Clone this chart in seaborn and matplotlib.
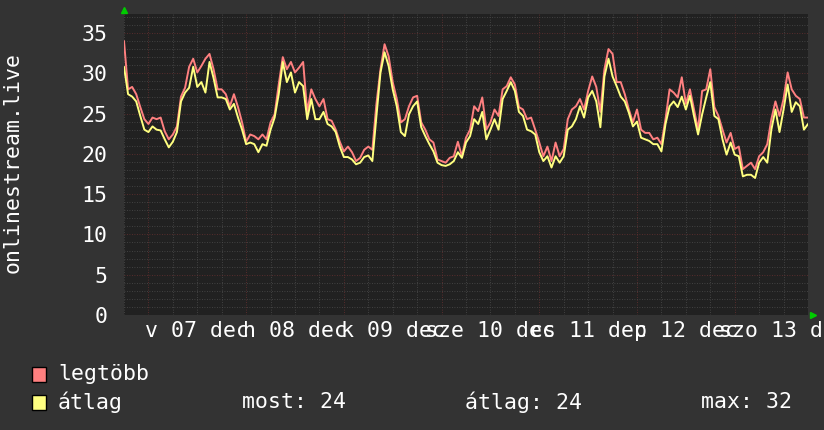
import numpy as np
import pandas as pd
import seaborn as sns
import matplotlib
matplotlib.use("Agg")
import matplotlib.pyplot as plt
from matplotlib.ticker import MultipleLocator
from matplotlib.patches import Rectangle

# hourly samples, hour 0 = 18:00 the evening before "v 07 dec"
atlag = [
    30.8, 27.4, 27.1, 26.5, 24.7, 23.0, 22.7, 23.4, 23.0, 22.9,
    21.8, 20.8, 21.5, 22.7, 26.5, 27.6, 28.2, 30.8, 28.3, 28.9,
    27.6, 31.4, 29.4, 27.0, 27.0, 26.8, 25.5, 26.2, 24.5, 23.0,
    21.2, 21.4, 21.2, 20.2, 21.2, 21.0, 23.0, 24.5, 27.4, 31.4,
    28.9, 30.1, 27.6, 28.9, 28.4, 24.3, 26.8, 24.3, 24.3, 25.2,
    23.7, 23.4, 22.7, 20.9, 19.6, 19.6, 19.3, 18.7, 18.9, 19.6,
    19.8, 19.1, 24.7, 30.1, 32.6, 30.9, 28.0, 25.9, 22.7, 22.2,
    24.9, 25.9, 26.5, 23.3, 22.2, 21.2, 20.3, 18.9, 18.6, 18.5,
    18.7, 19.1, 20.2, 19.5, 21.4, 22.2, 24.3, 23.7, 25.2, 21.8,
    23.0, 24.3, 23.0, 26.8, 27.8, 28.9, 27.8, 25.2, 24.7, 23.0,
    22.8, 22.4, 20.2, 19.1, 19.7, 18.3, 19.7, 18.9, 19.7, 23.0,
    23.4, 24.3, 25.9, 24.5, 27.0, 27.8, 26.5, 23.3, 29.6, 31.8,
    29.6, 28.4, 27.1, 26.5, 25.1, 23.4, 24.0, 22.0, 21.8, 21.6,
    21.2, 21.2, 20.3, 23.7, 25.9, 26.5, 25.8, 27.1, 25.5, 27.2,
    24.7, 22.4, 24.9, 27.0, 28.9, 24.7, 24.3, 21.8, 19.9, 21.4,
    19.9, 19.7, 17.2, 17.4, 17.4, 17.0, 18.9, 19.6, 18.9, 23.0,
    25.5, 22.7, 25.5, 28.6, 25.2, 26.4, 25.9, 23.0, 23.7,
]
legtobb = [
    34.0, 28.0, 28.3, 27.4, 25.8, 24.3, 23.7, 24.5, 24.3, 24.5,
    22.8, 21.8, 22.4, 23.4, 27.1, 28.2, 30.8, 31.8, 30.1, 30.9,
    31.8, 32.4, 30.5, 28.0, 28.0, 27.4, 25.9, 27.4, 25.8, 23.9,
    21.5, 22.4, 22.2, 21.8, 22.4, 21.8, 23.9, 24.9, 28.6, 32.0,
    30.5, 31.4, 30.1, 30.7, 31.4, 25.2, 28.0, 26.8, 25.9, 26.8,
    24.3, 24.1, 23.0, 21.5, 20.3, 20.9, 20.2, 19.1, 19.5, 20.5,
    20.9, 20.5, 26.2, 30.5, 33.6, 32.1, 28.9, 26.8, 23.9, 24.3,
    25.9, 27.0, 27.2, 23.9, 23.0, 21.8, 21.4, 19.3, 19.1, 18.9,
    19.5, 19.7, 21.5, 19.7, 22.0, 23.0, 25.9, 25.3, 27.0, 23.0,
    23.9, 25.5, 24.7, 28.0, 28.4, 29.5, 28.6, 25.8, 25.5, 24.3,
    24.5, 23.0, 21.4, 19.7, 20.9, 19.1, 21.4, 19.7, 20.6, 24.3,
    25.5, 25.9, 26.8, 25.5, 27.8, 29.6, 28.3, 25.2, 30.5, 33.0,
    32.4, 28.9, 28.9, 27.4, 25.5, 23.9, 25.5, 23.0, 22.6, 22.6,
    21.8, 22.0, 21.2, 24.3, 28.0, 27.6, 27.0, 29.5, 26.2, 28.0,
    25.5, 23.0, 27.8, 28.0, 30.5, 25.8, 24.7, 23.0, 21.4, 22.6,
    20.6, 20.9, 18.1, 18.5, 18.9, 18.1, 19.7, 20.2, 21.2, 24.3,
    26.5, 24.7, 26.8, 30.1, 28.0, 27.2, 26.8, 24.5, 24.5,
]
hours = list(range(len(atlag)))

day_labels = ["v 07 dec", "h 08 dec", "k 09 dec", "sze 10 dec",
              "cs 11 dec", "p 12 dec", "szo 13 dec"]
day_noons = [18, 42, 66, 90, 114, 138, 162]

series_names = ["legtöbb", "átlag"]
series_colors = ["#ff8080", "#ffff80"]
stat_labels = ["most: 24", "átlag: 24", "max: 32"]
y_title = "onlinestream.live"

df = pd.concat([
    pd.DataFrame({"ora": hours, "ertek": legtobb, "sor": "legtöbb"}),
    pd.DataFrame({"ora": hours, "ertek": atlag, "sor": "átlag"}),
])

outer_bg = "#333333"
plot_bg = "#212121"
sns.set_style("dark", rc={"figure.facecolor": outer_bg, "axes.facecolor": plot_bg})
plt.rcParams["font.family"] = ["DejaVu Sans Mono"]
fs = 15.5

fig = plt.figure(figsize=(8.24, 4.30), dpi=100)
W, H = 824, 430
left, right, top, bottom = 124, 808, 14, 315
ax = fig.add_axes([left / W, 1 - bottom / H, (right - left) / W, (bottom - top) / H])

sns.lineplot(data=df, x="ora", y="ertek", hue="sor", hue_order=series_names,
             palette=series_colors, estimator=None, legend=False,
             lw=1.4, ax=ax, zorder=3)

ax.set_xlim(0, 168)
ax.set_ylim(0, 37.35)
ax.set_xlabel("")
ax.set_ylabel("")

ax.xaxis.set_major_locator(MultipleLocator(24, offset=6))
ax.xaxis.set_minor_locator(MultipleLocator(6))
ax.yaxis.set_major_locator(MultipleLocator(5))
ax.yaxis.set_minor_locator(MultipleLocator(1))

ax.grid(False)
ax.grid(which="minor", color="#4c4c4c", lw=0.6, ls=(0, (1, 2)))
ax.grid(which="major", color="#693030", lw=0.6, ls=(0, (1, 2)))
ax.set_axisbelow(True)

ax.tick_params(axis="x", which="major", length=3, color="#a04040", labelbottom=False)
ax.tick_params(axis="x", which="minor", length=2, color="#606060")
ax.tick_params(axis="y", which="both", length=0, pad=12, labelsize=fs, labelcolor="white")
ax.set_yticks(range(0, 36, 5))
for s in ax.spines.values():
    s.set_visible(False)

for lab, pos in zip(day_labels, day_noons):
    ax.text(pos, -16 / (bottom - top), lab, transform=ax.get_xaxis_transform(),
            ha="center", va="center", color="white", fontsize=fs)

# rrdtool style axis arrows
ax.plot([0], [1.012], marker="^", ms=5, color="#00cc00", transform=ax.transAxes, clip_on=False)
ax.plot([1.007], [0], marker=">", ms=5, color="#00cc00", transform=ax.transAxes, clip_on=False)

fig.text(13 / W, 1 - 163 / H, y_title, rotation=90, ha="center", va="center",
         color="white", fontsize=fs)

# legend
for i, (name, col) in enumerate(zip(series_names, series_colors)):
    yc = 374 + i * 28
    fig.patches.append(Rectangle((32 / W, 1 - (yc + 7.5) / H), 14 / W, 15 / H,
                                 transform=fig.transFigure, facecolor=col,
                                 edgecolor="black", lw=1))
    fig.text(58 / W, 1 - yc / H, name, ha="left", va="center", color="white", fontsize=fs)
for lab, xs in zip(stat_labels, [242, 465, 701]):
    fig.text(xs / W, 1 - 402 / H, lab, ha="left", va="center", color="white", fontsize=fs)

fig.savefig("out.png", dpi=100, facecolor=outer_bg)
